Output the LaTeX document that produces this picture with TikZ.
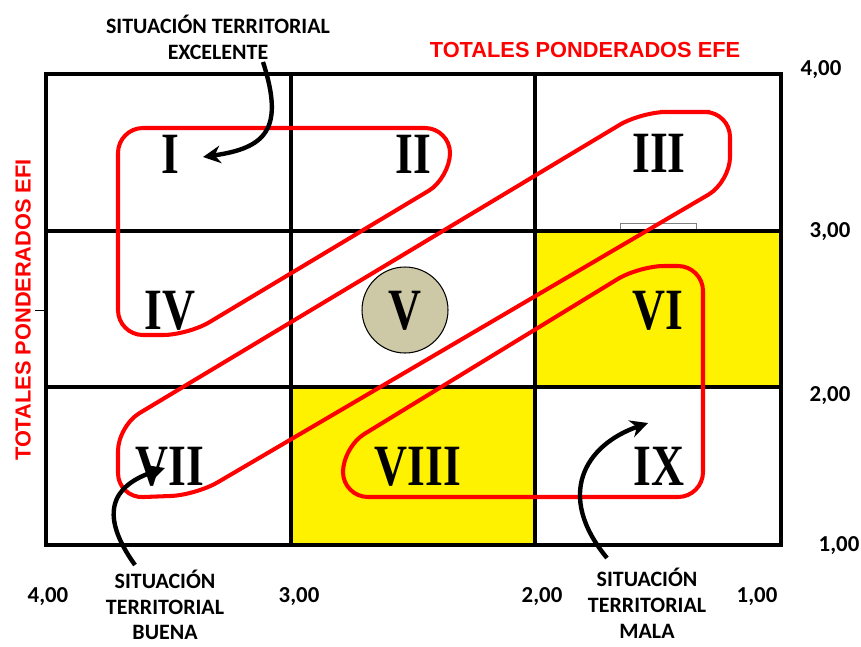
\documentclass[tikz,border=0pt]{standalone}
\usepackage{fontspec}
\setmainfont{Carlito}
\newfontfamily\arialfont{Liberation Sans}
\newfontfamily\timesfont{Liberation Serif}
\usetikzlibrary{arrows.meta}
\definecolor{pardo}{HTML}{CDC8A5}

\begin{document}
\begin{tikzpicture}[x=0.02cm, y=-0.02cm,
  rejilla/.style={line width=2.8pt},
  lazo/.style={red, line width=2.3pt, rounded corners=0.5cm},
  flecha/.style={line width=2.5pt, -{Stealth[length=10pt,width=10pt]}},
  romano/.style={font=\timesfont\bfseries\fontsize{26}{26}\selectfont, yscale=1.28, inner sep=0pt},
  rotulo/.style={font=\bfseries\fontsize{12.5}{14.7}\selectfont, align=center, inner sep=0pt},
  valor/.style={font=\bfseries\fontsize{13}{13}\selectfont, inner sep=0pt},
  titulo/.style={font=\arialfont\bfseries\fontsize{12.4}{12.4}\selectfont, red, inner sep=0pt}]
\useasboundingbox (0,0) rectangle (861,646);
\fill[yellow] (535,231) rectangle (781,387);
\fill[yellow] (291,387) rectangle (535,545);
\draw[gray, fill=white, line width=0.5pt] (620,223) rectangle (696,231);
\draw[line width=0.5pt] (35,310) -- (46,310);
\draw[rejilla] (46,74) rectangle (781,545);
\draw[rejilla] (291,74) -- (291,545);
\draw[rejilla] (535,74) -- (535,545);
\draw[rejilla] (46,231) -- (781,231);
\draw[rejilla] (46,387) -- (781,387);
\node[draw, circle, fill=pardo, line width=0.6pt, minimum size=1.72cm] (circulo) at (405,310) {};
\node[romano] (cI) at (170,154) {I};
\node[romano] (cII) at (413,154) {II};
\node[romano] (cIII) at (659,153) {III};
\node[romano] (cIV) at (170,311) {IV};
\node[romano] (cV) at (405,311) {V};
\node[romano] (cVI) at (658,311) {VI};
\node[romano] (cVII) at (170,467) {VII};
\node[romano] (cVIII) at (418,467) {VIII};
\node[romano] (cIX) at (659,466) {IX};
\draw[lazo] (284,128) -- (450,128) -- (450,178) -- (188,335) -- (118,335) -- (118,128) -- cycle;
\draw[lazo] (685,112) -- (730,112) -- (730,182) -- (196,495) -- (118,498) -- (118,426) -- (641,112) -- cycle;
\draw[lazo] (520,497) -- (343,497) -- (343,447) -- (639,266) -- (703,266) -- (703,497) -- cycle;
\node[titulo] (efe) at (585,49.5) {TOTALES PONDERADOS EFE};
\node[titulo, rotate=90] (efi) at (23,310) {TOTALES PONDERADOS EFI};
\node[valor] (d4) at (821,70) {4,00};
\node[valor] (d3) at (830,232) {3,00};
\node[valor] (d2) at (830,396) {2,00};
\node[valor] (d1) at (839,546) {1,00};
\node[valor] (i4) at (48,597) {4,00};
\node[valor] (i3) at (299,597) {3,00};
\node[valor] (i2) at (542,597) {2,00};
\node[valor] (i1) at (757,597) {1,00};
\node[rotulo] (excelente) at (218,37) {SITUACIÓN TERRITORIAL\\EXCELENTE};
\node[rotulo] (buena) at (165,605) {SITUACIÓN\\TERRITORIAL\\BUENA};
\node[rotulo] (mala) at (647,603) {SITUACIÓN\\TERRITORIAL\\MALA};
\coordinate (exA) at (263,62);
\coordinate (exB) at (203,157);
\coordinate (buA) at (135,565);
\coordinate (buB) at (165,468);
\coordinate (maA) at (607,558);
\coordinate (maB) at (648,423);
\draw[flecha] (exA) .. controls (285,130) and (265,148) .. (exB);
\draw[flecha] (buA) .. controls (92,505) and (122,482) .. (buB);
\draw[flecha] (maA) .. controls (555,495) and (585,445) .. (maB);
\end{tikzpicture}
\end{document}
